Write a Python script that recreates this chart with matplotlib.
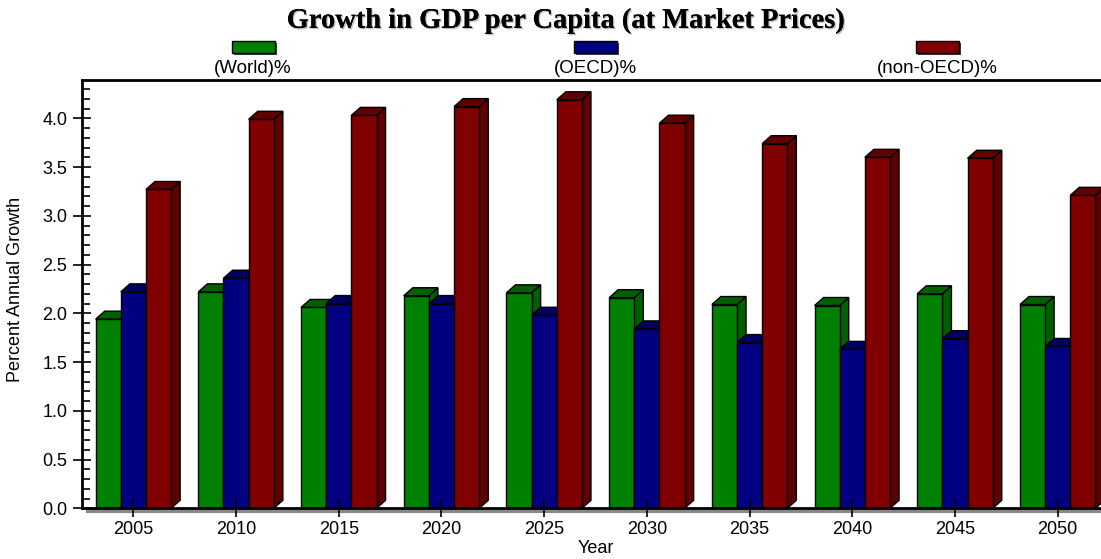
import matplotlib
matplotlib.use('Agg')
import matplotlib.pyplot as plt
import matplotlib.patheffects as pe
from matplotlib.patches import Polygon, Rectangle
from matplotlib.ticker import MultipleLocator, FormatStrFormatter
from matplotlib.transforms import ScaledTranslation

# --- data ---
years = ['2005', '2010', '2015', '2020', '2025', '2030', '2035', '2040', '2045', '2050']
world = [1.94, 2.22, 2.06, 2.18, 2.21, 2.16, 2.09, 2.08, 2.20, 2.09]
oecd = [2.22, 2.36, 2.10, 2.10, 1.98, 1.84, 1.70, 1.63, 1.74, 1.66]
non_oecd = [3.27, 3.99, 4.03, 4.12, 4.19, 3.95, 3.74, 3.60, 3.59, 3.21]
series_labels = ['(World)%', '(OECD)%', '(non-OECD)%']

front_colors = ['#008000', '#000080', '#800000']
dark_colors = ['#006000', '#000060', '#600000']

plt.rcParams['font.family'] = ['Liberation Sans', 'DejaVu Sans']

fig = plt.figure(figsize=(11.01, 5.59), dpi=100)
ax = fig.add_axes([0.0745, 0.0907, 0.9328, 0.7662])

w = 0.245
offsets = [-w, 0, w]
dx, dy = 0.088, 0.082  # fake 3D depth in data units

for k, vals in enumerate([world, oecd, non_oecd]):
    xs = [i + offsets[k] for i in range(len(years))]
    ax.bar(xs, vals, width=w, color=front_colors[k], edgecolor='black',
           linewidth=1, zorder=3 + 2 * k)
    for x, h in zip(xs, vals):
        x0, x1 = x - w / 2, x + w / 2
        side = Polygon([(x1, 0), (x1 + dx, dy), (x1 + dx, h + dy), (x1, h)],
                       closed=True, facecolor=dark_colors[k], edgecolor='black',
                       linewidth=1, zorder=2 + 2 * k)
        top = Polygon([(x0, h), (x0 + dx, h + dy), (x1 + dx, h + dy), (x1, h)],
                      closed=True, facecolor=dark_colors[k], edgecolor='black',
                      linewidth=1, zorder=2 + 2 * k)
        ax.add_patch(side)
        ax.add_patch(top)

ax.set_xlim(-0.5, 9.5)
ax.set_ylim(0, 4.393)
ax.set_xticks(range(len(years)))
ax.set_xticklabels(years, fontsize=13)
ax.yaxis.set_major_locator(MultipleLocator(0.5))
ax.yaxis.set_minor_locator(MultipleLocator(0.1))
ax.yaxis.set_major_formatter(FormatStrFormatter('%.1f'))
ax.tick_params(axis='y', which='major', direction='inout', length=13, width=1.2,
               labelsize=13, pad=4)
ax.tick_params(axis='y', which='minor', direction='in', length=6, width=1.2)
ax.tick_params(axis='x', which='major', direction='inout', length=13, width=1.2,
               pad=3)
ax.xaxis.set_zorder(20)
ax.yaxis.set_zorder(20)

for s in ['left', 'bottom', 'top']:
    ax.spines[s].set_linewidth(2)
    ax.spines[s].set_zorder(21)
ax.spines['right'].set_visible(False)

# grey shadow under the x axis line
shadow = ScaledTranslation(0, -3 / 100, fig.dpi_scale_trans)
ax.plot([0.006, 1], [0, 0], color='#888888', linewidth=3,
        transform=ax.transAxes + shadow, clip_on=False, zorder=1)

ax.set_ylabel('Percent Annual Growth', fontsize=13)
ax.yaxis.set_label_coords(-0.0565, 0.51)
ax.set_xlabel('Year', fontsize=13)
ax.xaxis.set_label_coords(0.5, -0.073)

fig.text(0.514, 0.962, 'Growth in GDP per Capita (at Market Prices)',
         ha='center', va='center', fontsize=20.5, fontweight='bold',
         family=['Liberation Serif', 'DejaVu Serif'],
         path_effects=[pe.withSimplePatchShadow(offset=(1, -1), shadow_rgbFace='#999999', alpha=0.6), pe.Normal()])

# legend: coloured swatch above each label
legend_x = [253, 595, 937]
W, H = 1101, 559
for cx, col, lab in zip(legend_x, front_colors, series_labels):
    fig.add_artist(Rectangle(((cx - 21 + 2) / W, 1 - 55 / H), 43 / W, 12 / H,
                             transform=fig.transFigure, facecolor='#404040',
                             edgecolor='none'))
    fig.add_artist(Rectangle(((cx - 21) / W, 1 - 53 / H), 43 / W, 12 / H,
                             transform=fig.transFigure, facecolor=col,
                             edgecolor='black', linewidth=1))
    fig.text(cx / W, 1 - 68.5 / H, lab, ha='center', va='center', fontsize=13.5)

fig.savefig('out.png', dpi=100)
